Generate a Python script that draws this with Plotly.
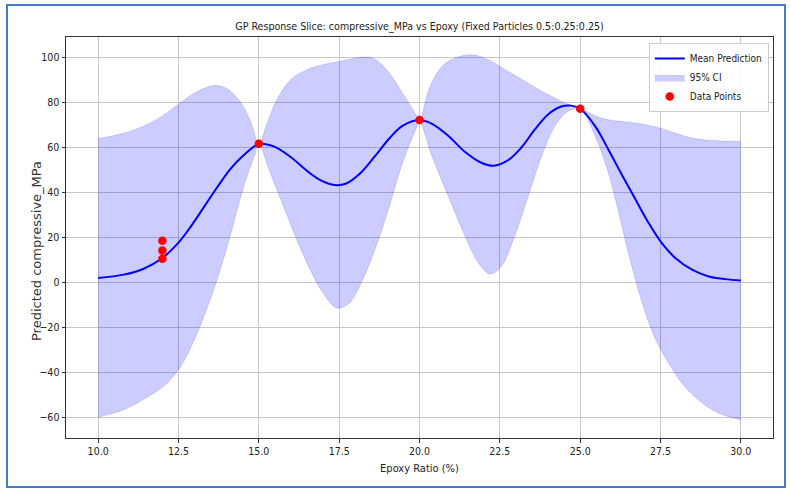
import plotly.graph_objects as go

# ---- data ----
mean_x = [10.0, 10.8, 11.4, 12.0, 12.5, 12.9, 13.3, 13.7, 14.1, 14.5,
          15.0, 15.46, 15.98, 16.5, 16.9, 17.36, 17.72, 18.13, 18.6, 19.06,
          19.47, 20.0, 20.39, 20.9, 21.42, 21.94, 22.3, 22.76, 23.17, 23.59,
          24.0, 24.41, 24.72, 25.0, 25.47, 25.88, 26.3, 26.71, 27.13, 27.54,
          27.96, 28.48, 29.0, 29.51, 30.0]
mean_y = [1.8, 3.3, 5.8, 10.7, 17.5, 25.0, 33.5, 42.0, 50.0, 56.0,
          61.3, 60.3, 55.7, 49.4, 45.4, 43.1, 43.8, 48.0, 55.7, 63.8,
          69.4, 72.0, 70.3, 64.9, 57.8, 52.9, 51.7, 54.2, 59.8, 67.8,
          74.5, 78.0, 78.4, 77.0, 69.2, 58.8, 47.6, 37.0, 26.2, 17.3,
          10.7, 5.5, 2.5, 1.3, 0.7]

upper_x = [10.0, 11.0, 11.85, 12.5, 13.0, 13.6, 14.0, 14.45, 14.76, 15.0,
           15.26, 15.56, 16.0, 16.5, 17.0, 17.5, 18.34, 18.65, 19.06,
           19.47, 19.83, 20.0,
           20.29, 20.7, 21.11, 21.63, 22.14, 22.76, 23.38, 24.0, 24.52, 25.0,
           25.47, 25.88, 26.71, 27.5, 27.96, 28.48, 29.0, 30.0]
upper_y = [63.7, 67.0, 72.5, 79.0, 84.0, 87.3, 86.0, 79.6, 70.7, 61.5,
           70.7, 81.0, 90.0, 94.4, 96.6, 98.0, 100.0, 98.8, 92.9,
           84.0, 75.9, 72.3,
           85.5, 95.9, 99.6, 101.0, 98.8, 93.6, 88.4, 83.3, 79.6, 77.3,
           73.9, 72.1, 70.7, 68.4, 66.2, 64.0, 63.0, 62.5]

lower_x = [10.0, 10.8, 11.43, 12.06, 12.5, 12.9, 13.3, 13.7, 14.1, 14.5,
           14.86, 15.0, 15.36, 15.77, 16.18, 16.6, 17.0, 17.43, 17.82, 18.23,
           18.65, 19.06, 19.47, 19.88, 20.0, 20.39, 20.9, 21.42, 21.84, 22.2,
           22.55, 22.96, 23.38, 23.8, 24.21, 24.62, 25.0, 25.47, 25.88, 26.2,
           26.5, 26.9, 27.3, 27.75, 28.16, 28.67, 29.2, 29.6, 30.0]
lower_y = [-60.0, -56.7, -52.0, -46.0, -39.0, -28.6, -15.0, 1.0, 20.0, 41.0,
           56.0, 61.0, 48.4, 33.6, 18.8, 5.5, -4.9, -11.6, -9.3, 1.0,
           15.9, 33.6, 52.9, 67.7, 71.0, 55.9, 38.0, 20.3, 8.4, 3.6,
           7.0, 20.3, 38.0, 55.9, 69.2, 75.9, 76.6, 64.7, 48.4, 30.7,
           12.9, -7.9, -24.1, -36.0, -44.9, -52.3, -57.5, -59.7, -61.2]

points_x = [12.0, 12.0, 12.0, 15.0, 20.0, 25.0]
points_y = [18.4, 14.0, 10.4, 61.5, 72.0, 77.0]

x_ticks = [10.0, 12.5, 15.0, 17.5, 20.0, 22.5, 25.0, 27.5, 30.0]
y_ticks = [-60, -40, -20, 0, 20, 40, 60, 80, 100]

NARROW = "Liberation Sans Narrow, DejaVu Sans Condensed, Arial Narrow, Liberation Sans, sans-serif"

fig = go.Figure()

fig.add_trace(go.Scatter(
    x=lower_x, y=lower_y, mode="lines",
    line=dict(color="rgba(0,0,255,0.18)", width=0.8, shape="spline", smoothing=1.0),
    showlegend=False, hoverinfo="skip"))
fig.add_trace(go.Scatter(
    x=upper_x, y=upper_y, mode="lines", name="95% CI",
    line=dict(color="rgba(0,0,255,0.18)", width=0.8, shape="spline", smoothing=1.0),
    fill="tonexty", fillcolor="rgba(0,0,255,0.2)", legendrank=2))
fig.add_trace(go.Scatter(
    x=mean_x, y=mean_y, mode="lines", name="Mean Prediction",
    line=dict(color="#0000ff", width=2, shape="spline", smoothing=1.0),
    legendrank=1))
fig.add_trace(go.Scatter(
    x=points_x, y=points_y, mode="markers", name="Data Points",
    marker=dict(color="#ff0000", size=8.5, line=dict(width=0)),
    legendrank=3))

axis_common = dict(
    showgrid=True, gridcolor="#c6c6c6", gridwidth=1,
    showline=True, linecolor="#333333", linewidth=1, mirror=True,
    ticks="outside", ticklen=3.5, tickcolor="#333333",
    zeroline=False,
    tickfont=dict(family=NARROW, size=10.5, color="#222222"),
)

fig.update_layout(
    width=791, height=492,
    margin=dict(l=66, r=18, t=37, b=54),
    paper_bgcolor="white", plot_bgcolor="white",
    title=dict(text="GP Response Slice: compressive_MPa vs Epoxy (Fixed Particles 0.5:0.25:0.25)",
               x=0.5, xref="paper", xanchor="center",
               y=1 - 26 / 492, yref="container", yanchor="middle",
               font=dict(family=NARROW, size=10.6, color="#222222")),
    xaxis=dict(range=[9, 31], tickvals=x_ticks,
               ticktext=[f"{v:.1f}" for v in x_ticks],
               title=dict(text="Epoxy Ratio (%)", standoff=8,
                          font=dict(family=NARROW, size=11, color="#222222")),
               **axis_common),
    yaxis=dict(range=[-69.3, 108.9], tickvals=y_ticks,
               ticktext=[str(v).replace("-", "\u2212") for v in y_ticks],
               **axis_common),
    annotations=[dict(text="Predicted compressive_MPa", textangle=-90,
                      xref="paper", yref="paper",
                      x=(36 - 66) / 707, y=(438 - 251) / 401,
                      xanchor="center", yanchor="middle", showarrow=False,
                      font=dict(family="DejaVu Sans", size=13, color="#333333"))],
    legend=dict(x=0.994, xanchor="right", y=0.985, yanchor="top",
                traceorder="normal",
                bgcolor="rgba(255,255,255,0.9)", bordercolor="#cccccc", borderwidth=1,
                font=dict(family=NARROW, size=10, color="#222222"),
                itemwidth=30),
    shapes=[dict(type="rect", xref="paper", yref="paper",
                 x0=(7 - 66) / 707, x1=(785 - 66) / 707,
                 y0=(438 - 487) / 401, y1=(438 - 5) / 401,
                 line=dict(color="#4a78cf", width=2), fillcolor="rgba(0,0,0,0)",
                 layer="above")],
)

fig.write_html("out.html")
